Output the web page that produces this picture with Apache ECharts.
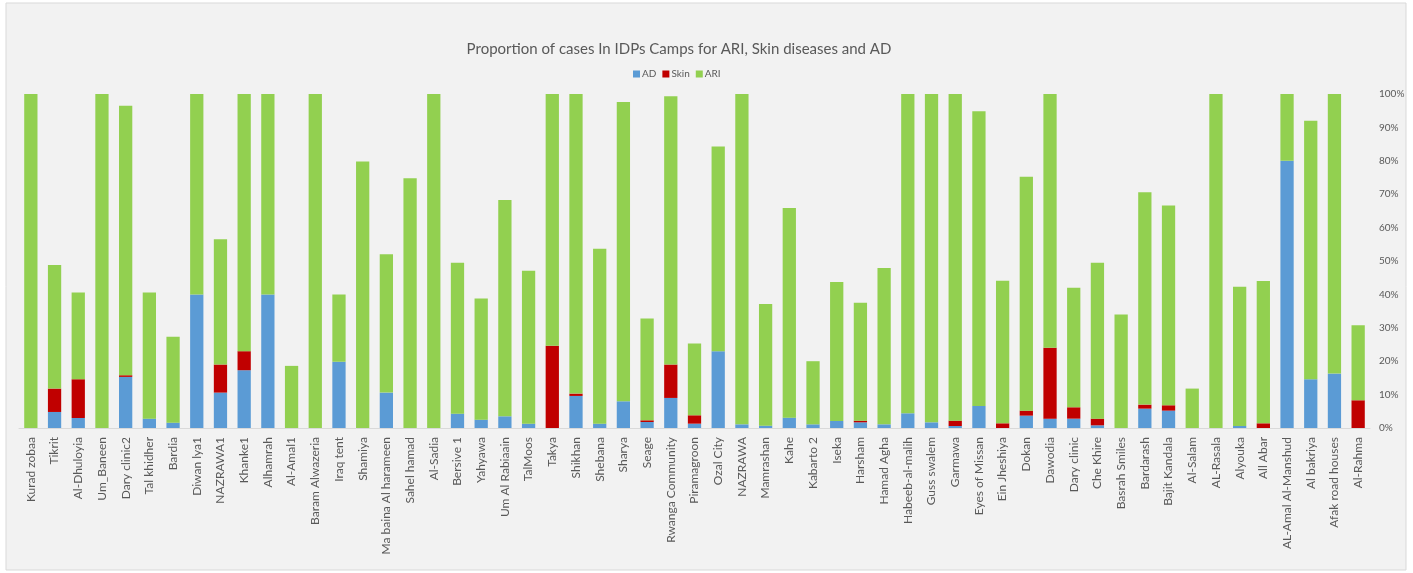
<!DOCTYPE html>
<html>
<head>
<meta charset="utf-8">
<script src="https://cdn.jsdelivr.net/npm/echarts@6/dist/echarts.min.js"></script>
<style>
html,body{margin:0;padding:0;background:#ffffff;}
#chart{width:1413px;height:573px;}
</style>
</head>
<body>
<div id="chart"></div>
<script>
const categories = ["Kurad zobaa","Tikrit","Al-Dhuloyia","Um_Baneen","Dary clinic2","Tal khidher","Bardia","Diwan lya1","NAZRAWA1","Khanke1","Alhamrah","Al-Amal1","Baram Alwazeria","Iraq tent",
"Shamiya","Ma baina Al harameen","Sahel hamad","Al-Sadia","Bersive 1","Yahyawa","Um Al Rabiaain","TalMoos","Takya","Shikhan","Shebana","Sharya","Seage","Rwanga Community",
"Piramagroon","Ozal City","NAZRAWA","Mamrashan","Kahe","Kabarto 2","Iseka","Harsham","Hamad Agha","Habeeb-al-malih","Guss swalem","Garmawa","Eyes of Missan","Ein Jheshiya","Dokan",
"Dawodia","Dary clinic","Che Khire","Basrah Smiles","Bardarash","Bajit Kandala","Al-Salam","AL-Rasala","Alyouka","All Abar","AL-Amal Al-Manshud","Al bakriya","Afak road houses","Al-Rahma"];

const adValues = [0,4.8,3,0,15.3,2.8,1.6,40,10.6,17.3,40,0,0,19.8,
0,10.6,0,0,4.3,2.5,3.5,1.3,0,9.6,1.3,8,1.8,9,
1.3,23,1.1,0.7,3.1,1.1,2.1,1.7,1.1,4.4,1.7,0.6,6.6,0,3.7,
2.8,2.8,0.8,0,5.8,5.2,0,0,0.6,0,80,14.6,16.3,0];

const skinValues = [0,7,11.6,0,0.5,0,0,0,8.4,5.7,0,0,0,0,
0,0,0,0,0,0,0,0,24.6,0.7,0,0,0.5,10,
2.5,0,0,0,0,0,0,0.5,0,0,0,1.6,0,1.4,1.5,
21.2,3.4,2,0,1.2,1.6,0,0,0,1.4,0,0,0,8.3];

const ariValues = [100,37,26,100,80.7,37.8,25.7,60,37.5,77,60,18.6,100,20.2,
79.8,41.4,74.8,100,45.2,36.3,64.8,45.8,75.4,89.7,52.4,89.6,30.5,80.3,
21.5,61.3,98.9,36.4,62.8,18.9,41.6,35.3,46.8,95.6,98.3,97.8,88.2,42.7,70,
76,35.8,46.7,34,63.6,59.8,11.8,100,41.7,42.6,20,77.4,83.7,22.5];

const yTicks = [0,10,20,30,40,50,60,70,80,90,100];

const chart = echarts.init(document.getElementById('chart'), null, {renderer:'canvas'});
const font = 'Lato';
const option = {
  backgroundColor: 'transparent',
  animation: false,
  graphic: [{
    type: 'rect', z: -10, silent: true,
    shape: {x: 6, y: 3, width: 1400, height: 567},
    style: {fill: '#f2f2f2', stroke: '#d9d9d9', lineWidth: 1}
  }],
  title: {
    text: 'Proportion of cases In IDPs Camps for ARI, Skin diseases and AD',
    left: 674, top: 37, textAlign: 'center',
    textStyle: {fontFamily: font, fontSize: 15, fontWeight: 'normal', color: '#595959'}
  },
  legend: {
    data: ['AD','Skin','ARI'],
    left: 628, top: 64,
    itemWidth: 7, itemHeight: 7, itemGap: 6,
    icon: 'rect',
    textStyle: {fontFamily: font, fontSize: 10, color: '#595959', padding: [0,0,0,-3]}
  },
  grid: {left: 19, right: 43, top: 94, bottom: 145, containLabel: false},
  xAxis: {
    type: 'category',
    data: categories,
    axisLine: {lineStyle: {color: '#d9d9d9'}},
    axisTick: {show: false},
    axisLabel: {rotate: 90, interval: 0, margin: 9, fontFamily: font, fontSize: 12, color: '#595959'}
  },
  yAxis: {
    type: 'value',
    position: 'right',
    min: yTicks[0], max: yTicks[yTicks.length-1], interval: 10,
    axisLine: {show: false},
    axisTick: {show: false},
    splitLine: {show: false},
    axisLabel: {margin: 9, fontFamily: font, fontSize: 10, color: '#595959', formatter: '{value}%'}
  },
  series: [
    {name: 'AD', type: 'bar', stack: 'total', data: adValues, itemStyle: {color: '#5b9bd5'}, barCategoryGap: '44%'},
    {name: 'Skin', type: 'bar', stack: 'total', data: skinValues, itemStyle: {color: '#c00000'}},
    {name: 'ARI', type: 'bar', stack: 'total', data: ariValues, itemStyle: {color: '#92d050'}}
  ]
};
chart.setOption(option);
</script>
</body>
</html>
